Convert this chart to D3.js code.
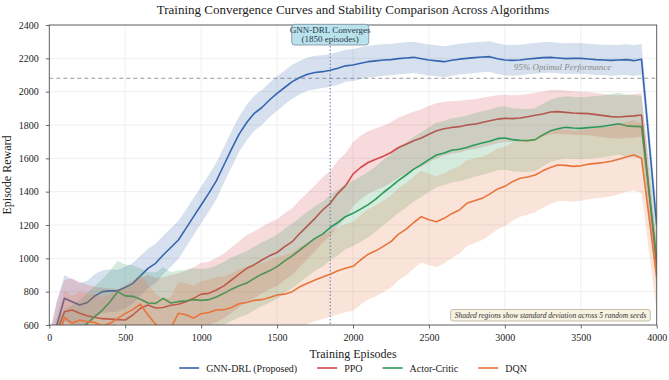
<!doctype html>
<html>
<head>
<meta charset="utf-8">
<script src="https://cdnjs.cloudflare.com/ajax/libs/d3/7.8.5/d3.min.js"></script>
<style>
  body { margin: 0; background: #fff; }
  svg { font-family: "Liberation Serif", "Times New Roman", serif; }
  .grid line { stroke: #ebebeb; stroke-width: 0.8; }
  .axis path { display: none; }
  .axis line { stroke: #444; stroke-width: 0.8; }
  .axis text { font-size: 10px; fill: #222; font-family: "Liberation Serif", serif; }
</style>
</head>
<body>
<svg id="chart" width="669" height="380"></svg>
<script>
var episodes = [0,50,100,150,200,250,300,350,400,450,500,550,600,650,700,750,800,850,900,950,
  1000,1050,1100,1150,1200,1250,1300,1350,1400,1450,1500,1550,1600,1650,1700,1750,1800,1850,1900,1950,
  2000,2050,2100,2150,2200,2250,2300,2350,2400,2450,2500,2550,2600,2650,2700,2750,2800,2850,2900,2950,
  3000,3050,3100,3150,3200,3250,3300,3350,3400,3450,3500,3550,3600,3650,3700,3750,3800,3850,3900,3950,4000];

var gnnMean = [400,600,760,740,720,735,775,800,805,805,
  825,850,895,940,970,1020,1065,1110,1180,1250,
  1320,1390,1465,1560,1655,1745,1815,1870,1905,1950,
  1990,2025,2060,2085,2105,2115,2120,2128,2140,2155,
  2160,2170,2180,2185,2190,2192,2198,2202,2206,2198,
  2190,2185,2180,2188,2195,2200,2204,2208,2210,2198,
  2190,2188,2190,2196,2200,2204,2206,2202,2198,2200,
  2200,2196,2192,2190,2188,2190,2192,2186,2194,1700,1200];
var gnnStd = [140,140,138,135,132,130,130,128,128,126,
  124,122,120,118,118,116,115,114,112,112,
  110,110,110,108,108,106,106,105,105,104,
  104,102,102,100,100,100,98,98,98,96,
  96,96,95,95,95,94,94,94,94,93,
  93,93,93,92,92,92,92,92,92,92,
  92,92,92,92,92,92,92,92,92,92,
  92,92,92,92,92,92,92,92,92,92,92];

var ppoMean = [350,560,680,690,670,655,645,638,635,632,
  630,660,700,720,702,705,718,725,740,760,
  785,790,810,835,870,905,940,962,990,1015,
  1035,1070,1100,1150,1195,1240,1290,1330,1390,1435,
  1505,1545,1575,1595,1612,1635,1665,1685,1705,1722,
  1745,1765,1778,1785,1790,1800,1805,1815,1825,1835,
  1840,1838,1842,1850,1858,1866,1878,1880,1876,1872,
  1870,1868,1862,1856,1850,1848,1852,1855,1860,1400,950];
var ppoStd = [180,185,190,190,188,186,185,185,184,184,
  183,183,182,182,182,182,183,184,185,186,
  188,190,192,194,196,198,200,200,200,200,
  200,200,200,200,198,198,196,196,195,194,
  192,190,188,186,184,182,180,178,175,172,
  170,166,162,158,155,152,150,148,146,144,
  142,140,138,136,135,134,133,132,131,130,
  130,130,130,130,130,130,130,130,130,130,130];

var acMean = [300,450,520,540,570,610,650,690,740,800,
  775,772,755,732,730,760,732,740,745,752,
  748,752,768,790,815,835,852,880,905,925,
  950,985,1015,1050,1085,1120,1145,1185,1215,1250,
  1270,1295,1322,1355,1395,1430,1468,1500,1535,1562,
  1592,1620,1632,1648,1655,1665,1680,1692,1702,1718,
  1722,1712,1708,1706,1712,1740,1765,1778,1786,1782,
  1780,1784,1788,1792,1800,1808,1795,1792,1790,1395,1000];
var acStd = [170,172,175,178,180,182,184,185,186,186,
  186,186,186,186,186,186,186,187,187,188,
  188,188,189,190,190,190,190,191,191,192,
  192,192,193,193,194,194,195,195,196,196,
  196,196,196,196,196,195,195,195,194,194,
  194,193,193,192,192,191,191,190,190,190,
  190,189,189,188,188,188,187,187,187,186,
  186,186,186,186,186,186,186,186,186,186,186];

var dqnMean = [300,500,645,610,630,620,615,595,610,640,
  668,692,725,660,605,570,580,670,662,642,
  668,675,690,692,705,728,735,748,752,765,
  780,785,800,830,850,870,888,905,925,940,
  952,990,1025,1045,1072,1100,1145,1175,1215,1250,
  1232,1220,1240,1268,1290,1330,1345,1360,1385,1415,
  1432,1460,1480,1488,1500,1525,1545,1560,1558,1552,
  1555,1565,1570,1575,1582,1595,1608,1620,1600,1245,890];
var dqnStd = [150,155,160,165,168,170,170,172,172,174,
  175,176,178,180,182,184,186,188,190,192,
  194,196,198,200,204,208,212,216,220,224,
  228,232,236,240,244,248,252,256,260,264,
  266,268,270,272,274,275,276,276,276,275,
  274,272,270,266,262,258,254,250,246,242,
  238,234,230,227,224,221,218,216,214,212,
  210,210,210,210,210,210,210,210,210,210,210];

var seriesNames = ["GNN-DRL (Proposed)", "PPO", "Actor-Critic", "DQN"];
var seriesColors = ["#3565b0", "#d8474b", "#2a9a5a", "#e8743b"];
var seriesMeans = [gnnMean, ppoMean, acMean, dqnMean];
var seriesStds = [gnnStd, ppoStd, acStd, dqnStd];

var xTicks = [0,500,1000,1500,2000,2500,3000,3500,4000];
var yTicks = [600,800,1000,1200,1400,1600,1800,2000,2200,2400];
var convergeEpisode = 1850;
var optimalLine = 2080;

var svg = d3.select("#chart");
var pLeft = 49.3, pRight = 656.7, pTop = 25, pBottom = 325;

var x = d3.scaleLinear().domain([0, 4000]).range([pLeft, pRight]);
var y = d3.scaleLinear().domain([600, 2400]).range([pBottom, pTop]);

svg.append("clipPath").attr("id", "plotclip")
  .append("rect").attr("x", pLeft).attr("y", pTop)
  .attr("width", pRight - pLeft).attr("height", pBottom - pTop);

// grid
var grid = svg.append("g").attr("class", "grid");
grid.selectAll("line.gx").data(xTicks).enter().append("line")
  .attr("x1", d => x(d)).attr("x2", d => x(d)).attr("y1", pTop).attr("y2", pBottom);
grid.selectAll("line.gy").data(yTicks).enter().append("line")
  .attr("y1", d => y(d)).attr("y2", d => y(d)).attr("x1", pLeft).attr("x2", pRight);

var plot = svg.append("g").attr("clip-path", "url(#plotclip)");

// 95% optimal line
plot.append("line")
  .attr("x1", pLeft).attr("x2", pRight)
  .attr("y1", y(optimalLine)).attr("y2", y(optimalLine))
  .style("stroke", "#b0b0b0").style("stroke-width", 1.2).style("stroke-dasharray", "4,3");

seriesMeans.forEach(function(mean, i) {
  var std = seriesStds[i];
  var area = d3.area()
    .x((d, j) => x(episodes[j]))
    .y0((d, j) => y(mean[j] - std[j]))
    .y1((d, j) => y(mean[j] + std[j]));
  var line = d3.line()
    .x((d, j) => x(episodes[j]))
    .y((d, j) => y(mean[j]));
  plot.append("path").datum(mean)
    .attr("d", area)
    .style("fill", seriesColors[i]).style("fill-opacity", 0.2).style("stroke", "none");
  plot.append("path").datum(mean)
    .attr("d", line)
    .style("fill", "none").style("stroke", seriesColors[i]).style("stroke-width", 1.6)
    .style("stroke-linejoin", "round");
});

// convergence marker
plot.append("line")
  .attr("x1", x(convergeEpisode)).attr("x2", x(convergeEpisode))
  .attr("y1", pTop).attr("y2", pBottom)
  .style("stroke", "#5b7fc4").style("stroke-width", 1.2)
  .style("stroke-dasharray", "1.5,2").style("opacity", 0.85);

// frame
svg.append("rect").attr("x", pLeft).attr("y", pTop)
  .attr("width", pRight - pLeft).attr("height", pBottom - pTop)
  .style("fill", "none").style("stroke", "#555").style("stroke-width", 0.9);

// axes
svg.append("g").attr("class", "axis")
  .attr("transform", "translate(0," + pBottom + ")")
  .call(d3.axisBottom(x).tickValues(xTicks).tickSize(3.5).tickPadding(5).tickFormat(d3.format("d")));
svg.append("g").attr("class", "axis")
  .attr("transform", "translate(" + pLeft + ",0)")
  .call(d3.axisLeft(y).tickValues(yTicks).tickSize(3.5).tickPadding(7).tickFormat(d3.format("d")));

// texts
svg.append("text").attr("x", (pLeft + pRight) / 2).attr("y", 13.5)
  .attr("text-anchor", "middle").style("font-size", "13px").style("fill", "#222")
  .text("Training Convergence Curves and Stability Comparison Across Algorithms");
svg.append("text").attr("x", (pLeft + pRight) / 2).attr("y", 358)
  .attr("text-anchor", "middle").style("font-size", "12px").style("fill", "#222")
  .text("Training Episodes");
svg.append("text").attr("transform", "translate(10.5," + ((pTop + pBottom) / 2) + ") rotate(-90)")
  .attr("text-anchor", "middle").style("font-size", "12px").style("fill", "#222")
  .text("Episode Reward");

svg.append("text").attr("x", x(3700)).attr("y", y(optimalLine) - 8.5)
  .attr("text-anchor", "end").style("font-size", "9px").style("font-style", "italic")
  .style("fill", "#8a8a8a").text("95% Optimal Performance");

// annotation box
var ax = x(convergeEpisode);
svg.append("rect").attr("x", ax - 38.5).attr("y", 24.3).attr("width", 77).attr("height", 20.7)
  .attr("rx", 3).style("fill", "#b9e2ec").style("stroke", "#7d8d9a").style("stroke-width", 0.8);
svg.append("text").attr("x", ax).attr("y", 33)
  .attr("text-anchor", "middle").style("font-size", "9px").style("fill", "#2b3a4a")
  .text("GNN-DRL Converges");
svg.append("text").attr("x", ax).attr("y", 42)
  .attr("text-anchor", "middle").style("font-size", "9px").style("fill", "#2b3a4a")
  .text("(1850 episodes)");

// note box
var note = svg.append("g");
var noteText = note.append("text").attr("x", 550.5).attr("y", 318.3)
  .attr("text-anchor", "middle").style("font-size", "7.5px").style("font-style", "italic")
  .style("fill", "#333").text("Shaded regions show standard deviation across 5 random seeds");
var nw = noteText.node().getComputedTextLength() + 8;
note.insert("rect", "text").attr("x", 550.5 - nw / 2).attr("y", 309.5).attr("width", nw).attr("height", 11.5)
  .attr("rx", 2.5).style("fill", "#f7f2e2").style("stroke", "#b8ad92").style("stroke-width", 0.8);

// legend
var legend = svg.append("g");
var items = seriesNames.map(function(name, i) {
  var g = legend.append("g");
  g.append("line").attr("x1", 0).attr("x2", 20).attr("y1", 0).attr("y2", 0)
    .style("stroke", seriesColors[i]).style("stroke-width", 1.6);
  var t = g.append("text").attr("x", 27).attr("y", 3.5).style("font-size", "10px").style("fill", "#222").text(name);
  return { g: g, w: 27 + t.node().getComputedTextLength() };
});
var total = d3.sum(items, d => d.w) + 20 * (items.length - 1);
var cx = (pLeft + pRight) / 2 - total / 2;
items.forEach(function(it) {
  it.g.attr("transform", "translate(" + cx + ",368)");
  cx += it.w + 20;
});
</script>
</body>
</html>
